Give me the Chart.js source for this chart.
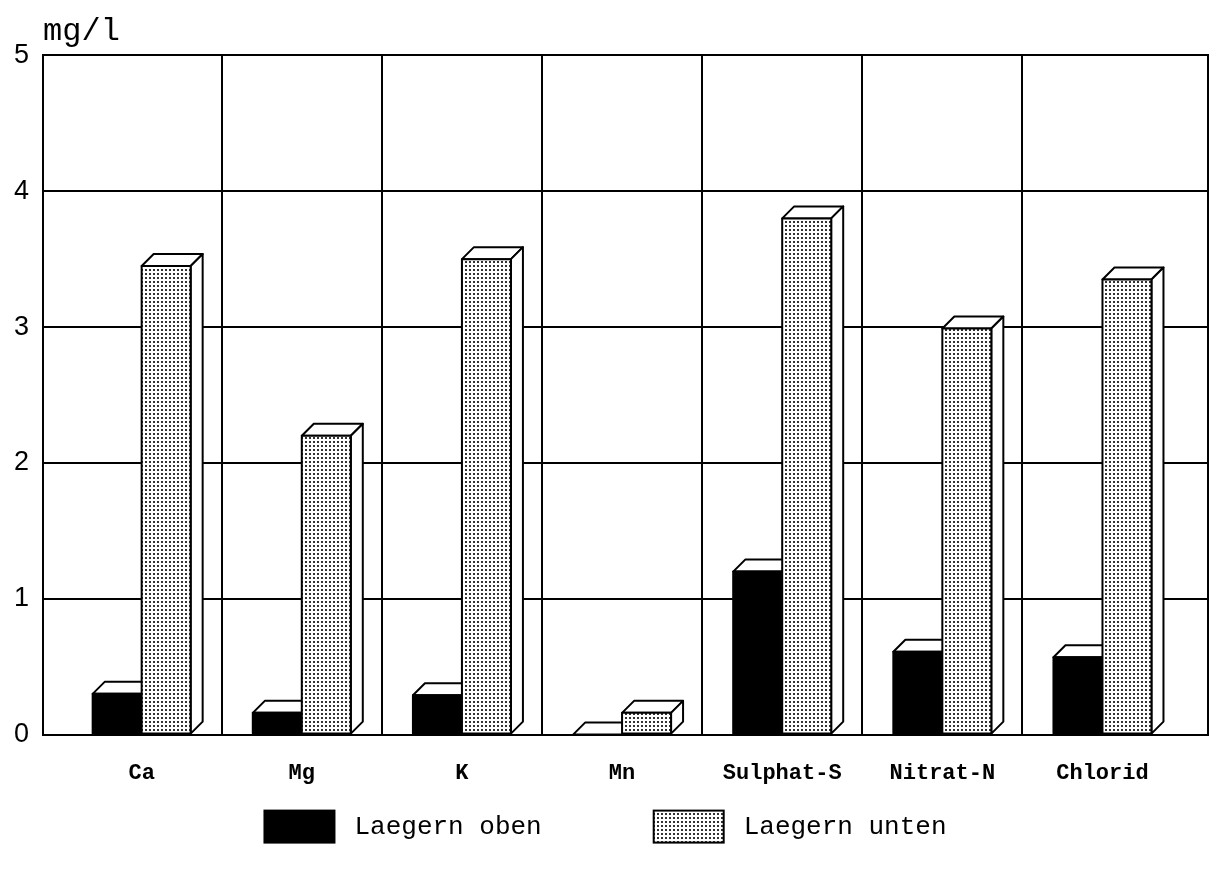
<html>
<head>
    <meta charset="UTF-8">
    <title>Laegern</title>
    <script src="https://cdn.jsdelivr.net/npm/chart.js"></script>
    <style>
        body { margin: 0; background: #fff; }
        #wrap { width: 1211px; height: 877px; }
    </style>
</head>
<body>
    <div id="wrap"><canvas id="chemChart"></canvas></div>

    <script>
        // categories and measured values (mg/l)
        const categories = ["Ca", "Mg", "K", "Mn", "Sulphat-S", "Nitrat-N", "Chlorid"];
        const laegernOben = [0.30, 0.16, 0.29, 0.00, 1.20, 0.61, 0.57];
        const laegernUnten = [3.45, 2.20, 3.50, 0.16, 3.80, 2.99, 3.35];
        const seriesNames = ["Laegern oben", "Laegern unten"];
        const yTicks = [0, 1, 2, 3, 4, 5];

        // dotted fill for the second series
        function makeDots() {
            const c = document.createElement('canvas');
            c.width = 4; c.height = 4;
            const g = c.getContext('2d');
            g.fillStyle = '#fff';
            g.fillRect(0, 0, 4, 4);
            g.fillStyle = '#333';
            g.fillRect(1, 1, 2, 2);
            return g.createPattern(c, 'repeat');
        }
        const dots = makeDots();
        const fills = ['#000', dots];

        // draws every bar with its top and side face, category by category
        const depth = 12;
        const bars3d = {
            id: 'bars3d',
            afterDatasetsDraw(chart) {
                const ctx = chart.ctx;
                const metas = [chart.getDatasetMeta(0), chart.getDatasetMeta(1)];
                ctx.save();
                ctx.lineWidth = 2;
                ctx.strokeStyle = '#000';
                ctx.lineJoin = 'round';
                for (let i = 0; i < categories.length; i++) {
                    metas.forEach((meta, d) => {
                        const el = meta.data[i];
                        const left = el.x - el.width / 2;
                        const right = el.x + el.width / 2;
                        const top = Math.min(el.y, el.base);
                        const base = el.base;
                        // top face
                        ctx.beginPath();
                        ctx.moveTo(left, top);
                        ctx.lineTo(left + depth, top - depth);
                        ctx.lineTo(right + depth, top - depth);
                        ctx.lineTo(right, top);
                        ctx.closePath();
                        ctx.fillStyle = '#fff';
                        ctx.fill();
                        ctx.stroke();
                        // side face
                        ctx.beginPath();
                        ctx.moveTo(right, top);
                        ctx.lineTo(right + depth, top - depth);
                        ctx.lineTo(right + depth, base - depth);
                        ctx.lineTo(right, base);
                        ctx.closePath();
                        ctx.fill();
                        ctx.stroke();
                        // front
                        if (base - top > 0.5) {
                            ctx.fillStyle = fills[d];
                            ctx.fillRect(left, top, right - left, base - top);
                            ctx.strokeRect(left, top, right - left, base - top);
                        }
                    });
                }
                ctx.restore();
            }
        };

        // legend drawn under the axis, wide spacing like the original
        const wideLegend = {
            id: 'wideLegend',
            afterDraw(chart) {
                const ctx = chart.ctx;
                const boxW = 70, boxH = 32, gapText = 20, gapItem = 112;
                ctx.save();
                ctx.font = '26px "Liberation Mono"';
                ctx.textBaseline = 'middle';
                const widths = seriesNames.map(n => ctx.measureText(n).width);
                const total = 2 * (boxW + gapText) + widths[0] + widths[1] + gapItem;
                let x = chart.width / 2 - total / 2;
                const yc = chart.chartArea.bottom + 92;
                seriesNames.forEach((n, i) => {
                    ctx.fillStyle = fills[i];
                    ctx.fillRect(x, yc - boxH / 2, boxW, boxH);
                    ctx.lineWidth = 2;
                    ctx.strokeStyle = '#000';
                    ctx.strokeRect(x, yc - boxH / 2, boxW, boxH);
                    ctx.fillStyle = '#000';
                    ctx.fillText(n, x + boxW + gapText, yc + 1);
                    x += boxW + gapText + widths[i] + gapItem;
                });
                ctx.restore();
            }
        };

        const ctx = document.getElementById('chemChart').getContext('2d');
        new Chart(ctx, {
            type: 'bar',
            data: {
                datasets: [
                    {
                        label: seriesNames[0],
                        data: laegernOben.map((v, i) => ({ x: i, y: v })),
                        backgroundColor: 'rgba(0,0,0,0)',
                        borderWidth: 0
                    },
                    {
                        label: seriesNames[1],
                        data: laegernUnten.map((v, i) => ({ x: i, y: v })),
                        backgroundColor: 'rgba(0,0,0,0)',
                        borderWidth: 0
                    }
                ]
            },
            options: {
                responsive: true,
                maintainAspectRatio: false,
                animation: false,
                barThickness: 49,
                layout: { padding: { left: 0, right: 3, top: 0, bottom: 64 } },
                scales: {
                    x: {
                        type: 'linear',
                        offset: false,
                        min: -0.616,
                        max: 6.659,
                        afterBuildTicks: function(scale) {
                            const t = [];
                            for (let i = 0; i < categories.length; i++) {
                                t.push({ value: i });
                                if (i < categories.length - 1) t.push({ value: i + 0.5 });
                            }
                            scale.ticks = t;
                        },
                        ticks: {
                            autoSkip: false,
                            maxRotation: 0,
                            padding: 26,
                            color: '#000',
                            font: { family: 'Liberation Mono', size: 22, weight: 'bold' },
                            callback: function(value) {
                                return Number.isInteger(value) ? categories[value] : '';
                            }
                        },
                        grid: {
                            offset: false,
                            drawTicks: false,
                            lineWidth: 2,
                            color: function(c) {
                                return c.tick && !Number.isInteger(c.tick.value) ? '#000' : 'rgba(0,0,0,0)';
                            }
                        },
                        border: { color: '#000', width: 2 }
                    },
                    y: {
                        min: 0,
                        max: 5,
                        afterBuildTicks: function(scale) {
                            scale.ticks = yTicks.map(v => ({ value: v }));
                        },
                        ticks: {
                            padding: 14,
                            color: '#000',
                            font: { family: 'Liberation Sans', size: 27 }
                        },
                        grid: { drawTicks: false, lineWidth: 2, color: '#000' },
                        border: { color: '#000', width: 2 }
                    },
                    yRight: {
                        position: 'right',
                        min: 0,
                        max: 5,
                        ticks: { display: false },
                        grid: { display: false, drawTicks: false },
                        border: { color: '#000', width: 2 }
                    }
                },
                plugins: {
                    title: {
                        display: true,
                        text: 'mg/l',
                        align: 'start',
                        fullSize: false,
                        color: '#000',
                        font: { family: 'Liberation Mono', size: 32, weight: 'normal' },
                        padding: { top: 12, bottom: 5 }
                    },
                    legend: { display: false },
                    tooltip: { enabled: false }
                }
            },
            plugins: [bars3d, wideLegend]
        });
    </script>
</body>
</html>
